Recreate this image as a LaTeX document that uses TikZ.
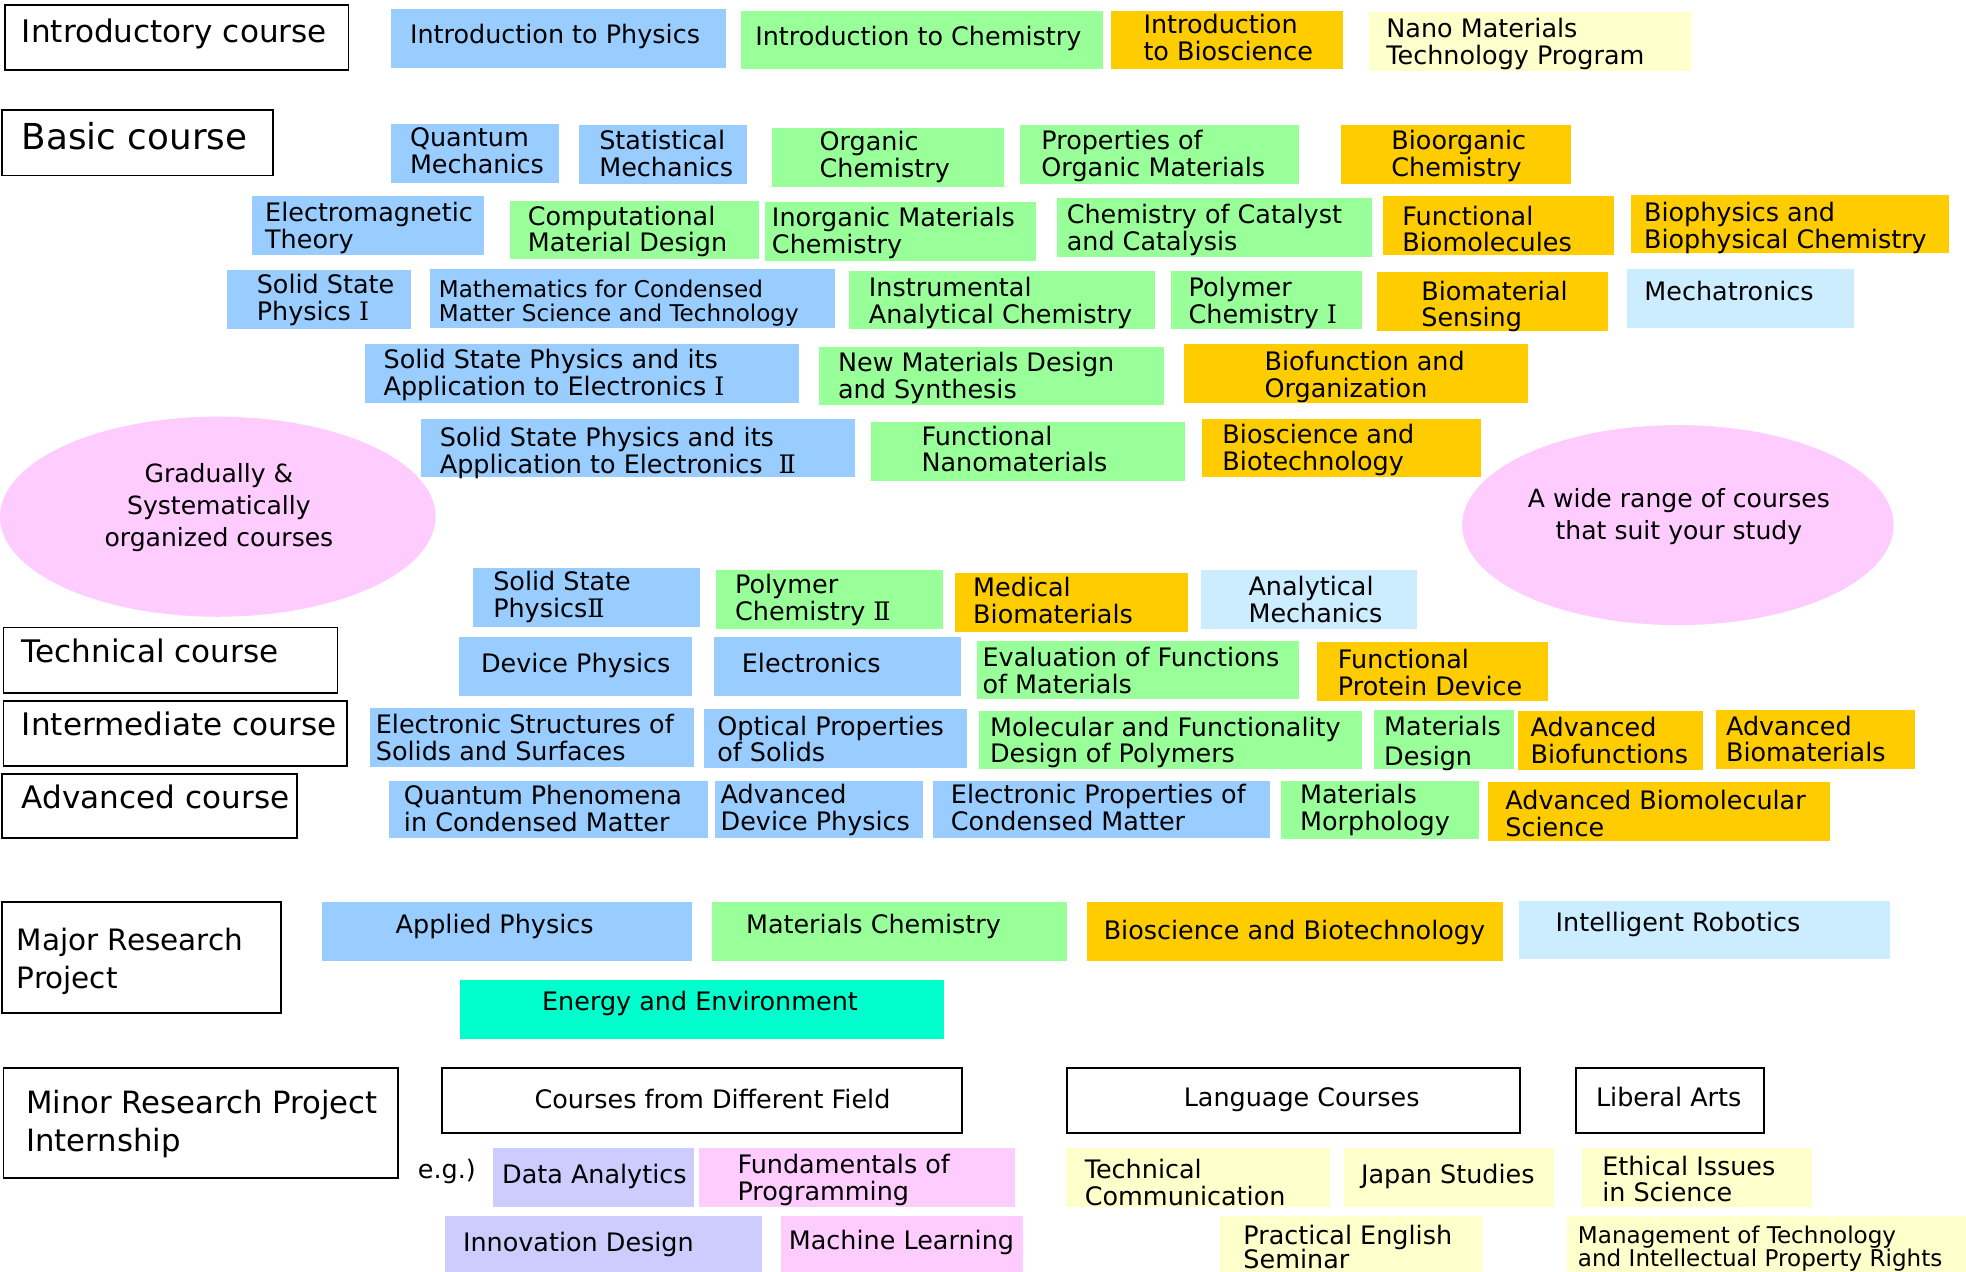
\documentclass[tikz,border=0pt]{standalone}
\usepackage{fontspec}
\setmainfont{DejaVu Sans}
\newfontfamily\numfont{DejaVu Serif}
\usetikzlibrary{shapes.geometric}
\definecolor{cblue}{HTML}{99CCFF}
\definecolor{cgreen}{HTML}{99FF99}
\definecolor{corange}{HTML}{FFCC00}
\definecolor{cyellow}{HTML}{FFFFCC}
\definecolor{cpale}{HTML}{CCECFF}
\definecolor{cpink}{HTML}{FFCCFF}
\definecolor{clav}{HTML}{CCCCFF}
\definecolor{cteal}{HTML}{00FFCC}
\newcommand\rI{{\numfont Ⅰ}}
\newcommand\rII{{\numfont Ⅱ}}
\tikzset{
  cbx/.style={rectangle, anchor=north west, inner sep=0pt, outer sep=0pt, draw=none},
  lvl/.style={rectangle, anchor=north west, inner sep=0pt, outer sep=0pt, draw=black, line width=1.4pt, fill=white},
  ctxf/.style 2 args={anchor=north west, inner sep=0pt, outer sep=0pt, align=left, yshift=#1pt, font=\fontsize{#1}{#2}\selectfont},
  ctx/.style={ctxf={20.3}{21.3}},
  etx/.style={anchor=north, inner sep=0pt, outer sep=0pt, align=center, yshift=20pt, font=\fontsize{20}{25.3}\selectfont},
  oval/.style={ellipse, fill=cpink, draw=none, inner sep=0pt, outer sep=0pt},
}
% coloured course box: name, x1, y1, x2, y2, colour, text x, first baseline, text
\newcommand\cbox[9]{%
  \node[cbx, fill=#6, minimum width=#4pt-#2pt, minimum height=#5pt-#3pt] (#1) at (#2,#3) {};
  \node[ctx] (#1-t) at (#7,#8) {\rule{0pt}{20.3pt}#9};
}
% framed label box: name, x1, y1, x2, y2, text x, first baseline, size, text
\newcommand\lbox[9]{%
  \node[lvl, minimum width=#4pt-#2pt, minimum height=#5pt-#3pt] (#1) at (#2,#3) {};
  \node[ctxf={#8}{30.6}] (#1-t) at (#6,#7) {\rule{0pt}{#8pt}#9};
}
\begin{document}
\begin{tikzpicture}[x=1pt,y=-1pt]
\useasboundingbox (0,0) rectangle (1568,1014);
\fill[white] (0,0) rectangle (1568,1014);
\clip (0,0) rectangle (1568,1014);

% ellipses
\node[oval, minimum width=347.4pt, minimum height=159.6pt] (ellL) at (173.7,412.1) {};
\node[etx] (ellL-t) at (174.6,385) {\rule{0pt}{20pt}Gradually \&\\Systematically\\organized courses};
\node[oval, minimum width=344.1pt, minimum height=159.5pt] (ellR) at (1338.2,418.8) {};
\node[etx] (ellR-t) at (1339,404.6) {\rule{0pt}{20pt}A wide range of courses\\that suit your study};

% row 1
\lbox{intro}{4}{4}{278}{56}{17.5}{34}{24.8}{Introductory course}
\cbox{iphy}{312}{7.4}{579}{54}{cblue}{327}{34.6}{Introduction to Physics}
\cbox{ichem}{591}{8.8}{880}{55.3}{cgreen}{602.4}{35.9}{Introduction to Chemistry}
\cbox{ibio}{886}{8.8}{1071.5}{55.3}{corange}{912}{26.6}{Introduction\\to Bioscience}
\cbox{nano}{1092.2}{9.6}{1349}{56.4}{cyellow}{1105.7}{29.8}{Nano Materials\\Technology Program}

% row 2
\lbox{basic}{1.7}{88}{218}{140}{17.5}{119.6}{28.5}{Basic course}
\cbox{qm}{312}{99}{446}{146}{cblue}{327}{117}{Quantum\\Mechanics}
\cbox{sm}{462}{99.7}{596}{146.5}{cblue}{478}{119.6}{Statistical\\Mechanics}
\cbox{oc}{615.8}{102}{801}{149}{cgreen}{653.7}{120.2}{Organic\\Chemistry}
\cbox{pom}{813.6}{99.7}{1036.4}{146.5}{cgreen}{830.6}{119.6}{Properties of\\Organic Materials}
\cbox{boc}{1069.4}{100}{1252.7}{146.5}{corange}{1109.7}{119.6}{Bioorganic\\Chemistry}

% row 3
\cbox{emt}{200.7}{156.3}{386}{203}{cblue}{211.5}{176.8}{Electromagnetic\\Theory}
\cbox{cmd}{407}{160.3}{605}{206.8}{cgreen}{421}{179.5}{Computational\\Material Design}
\cbox{imc}{610}{161}{826.6}{208}{cgreen}{615.7}{180.8}{Inorganic Materials\\Chemistry}
\cbox{ccc}{843.4}{158.2}{1094.6}{204.7}{cgreen}{850.8}{178.1}{Chemistry of Catalyst\\and Catalysis}
\cbox{fbm}{1103.3}{156.3}{1287}{203.1}{corange}{1118.5}{179.5}{Functional\\Biomolecules}
\cbox{bbc}{1300.7}{155.5}{1554.8}{202}{corange}{1311.2}{176.8}{Biophysics and\\Biophysical Chemistry}

% row 4
\cbox{ssp1}{181}{215.4}{328}{262}{cblue}{204.8}{234}{Solid State\\Physics \rI}
\node[cbx, fill=cblue, minimum width=323pt, minimum height=46.6pt] (math) at (343,214.8) {};
\node[ctxf={18.4}{19.2}] (math-t) at (350,237.4) {\rule{0pt}{18.4pt}Mathematics for Condensed\\Matter Science and Technology};
\cbox{iac}{677}{216.4}{921.3}{262.7}{cgreen}{693}{236.6}{Instrumental\\Analytical Chemistry}
\cbox{pc1}{934}{216.4}{1086.3}{262.7}{cgreen}{948}{236.6}{Polymer\\Chemistry \rI}
\cbox{bms}{1098.6}{217.2}{1282.3}{263.8}{corange}{1133.6}{239.3}{Biomaterial\\Sensing}
\cbox{mech}{1297.7}{214.6}{1478.3}{261.4}{cpale}{1311.5}{239.3}{Mechatronics}

% row 5
\cbox{sspa1}{291}{274.4}{637.6}{321.2}{cblue}{306}{293.8}{Solid State Physics and its\\Application to Electronics \rI}
\cbox{nmd}{652.8}{277}{928}{323.3}{cgreen}{668.4}{296.4}{New Materials Design\\and Synthesis}
\cbox{bfo}{944}{274.4}{1218.5}{321.2}{corange}{1008.6}{295.6}{Biofunction and\\Organization}

% row 6
\cbox{sspa2}{335.7}{334.5}{682}{380.7}{cblue}{350.8}{356.3}{Solid State Physics and its\\Application to Electronics\ \ \rII}
\cbox{fnm}{694.7}{336.3}{944.7}{383.4}{cgreen}{735}{355}{Functional\\Nanomaterials}
\cbox{bsb}{958.5}{334.5}{1181.3}{380.7}{corange}{975}{353.6}{Bioscience and\\Biotechnology}

% row 7
\cbox{ssp2}{377.6}{453.3}{558}{499.9}{cblue}{393.4}{471.1}{Solid State\\Physics\rII}
\cbox{pc2}{571}{454.6}{751.7}{501.4}{cgreen}{586.3}{473.3}{Polymer\\Chemistry \rII}
\cbox{medb}{761.7}{457.3}{947.1}{503.8}{corange}{776.2}{475.9}{Medical\\Biomaterials}
\cbox{anm}{958.2}{454.6}{1129.9}{501.4}{cpale}{995.8}{475.1}{Analytical\\Mechanics}

% row 8
\lbox{tech}{2.7}{500.4}{269.2}{552.5}{17.5}{528.6}{24.8}{Technical course}
\cbox{devp}{365.9}{508.3}{552}{555.1}{cblue}{383.7}{536.5}{Device Physics}
\cbox{elec}{569.5}{508.3}{766.8}{555.1}{cblue}{591.7}{536.5}{Electronics}
\cbox{efm}{779.3}{511.2}{1036.4}{557.8}{cgreen}{783.7}{531.7}{Evaluation of Functions\\of Materials}
\cbox{fpd}{1050.3}{512.3}{1234.3}{558.9}{corange}{1067.1}{533}{Functional\\Protein Device}

% row 9
\lbox{inter}{2.7}{558.9}{277}{611}{17.5}{586.2}{24.8}{Intermediate course}
\cbox{ess}{295.4}{565}{553.4}{611.5}{cblue}{299.8}{584.9}{Electronic Structures of\\Solids and Surfaces}
\cbox{ops}{561.4}{565.8}{770.9}{612.3}{cblue}{572.1}{586.2}{Optical Properties\\of Solids}
\cbox{mfd}{781}{566.8}{1086.3}{613.4}{cgreen}{789.6}{587}{Molecular and Functionality\\Design of Polymers}
\cbox{mdes}{1095.7}{566.3}{1207.4}{613.1}{cgreen}{1104}{586.2}{Materials\\[2.7pt]Design}
\cbox{abf}{1210.8}{567.1}{1358.2}{614.2}{corange}{1220.8}{587.6}{Advanced\\Biofunctions}
\cbox{abm}{1368.5}{566.3}{1527.6}{613.1}{corange}{1376.6}{586.2}{Advanced\\Biomaterials}

% row 10
\lbox{adv}{1.7}{617.3}{236.7}{668.6}{17.5}{644.7}{24.8}{Advanced course}
\cbox{qpc}{310.5}{622.7}{564.4}{668.6}{cblue}{322.2}{642}{Quantum Phenomena\\in Condensed Matter}
\cbox{adp}{570.4}{622.7}{736}{668.6}{cblue}{574.8}{640.7}{Advanced\\Device Physics}
\cbox{epc}{744}{622.7}{1012.6}{668.6}{cblue}{758.4}{640.7}{Electronic Properties of\\Condensed Matter}
\cbox{mmor}{1022}{622.9}{1179.6}{669.4}{cgreen}{1036.9}{640.7}{Materials\\Morphology}
\cbox{abs}{1186.9}{623.7}{1459.8}{670.5}{corange}{1200.7}{646}{Advanced Biomolecular\\Science}

% row 11-12
\lbox{major}{1.7}{719.4}{224.2}{807.7}{13.4}{757.7}{23.5}{Major Research\\Project}
\cbox{aphy}{256.8}{719.4}{552}{766.2}{cblue}{315.6}{744.4}{Applied Physics}
\cbox{mchem}{567.8}{719.4}{850.8}{766.2}{cgreen}{595}{744.4}{Materials Chemistry}
\cbox{bsbt}{866.9}{719.4}{1199}{766.2}{corange}{880.3}{749.2}{Bioscience and Biotechnology}
\cbox{irob}{1211.5}{718.6}{1507.5}{765.1}{cpale}{1240.7}{743.1}{Intelligent Robotics}
\cbox{ene}{366.9}{781.6}{752.5}{828.4}{cteal}{432.4}{805.6}{Energy and Environment}

% row 13
\lbox{minor}{2.7}{851.6}{317.2}{939.8}{20.8}{888}{24.5}{Minor Research Project\\Internship}
\lbox{cfd}{352.5}{851.6}{767.5}{903.4}{426.3}{884}{20.3}{Courses from Different Field}
\lbox{lang}{850.8}{851.6}{1212.4}{903.4}{944.1}{882.7}{20.3}{Language Courses}
\lbox{lib}{1256.8}{851.6}{1407.1}{903.4}{1272.9}{882.7}{20.3}{Liberal Arts}

% row 14
\node[ctx] (eg) at (333.3,939.8) {\rule{0pt}{20.3pt}e.g.)};
\cbox{da}{393.4}{915.9}{553.4}{962.5}{clav}{400.5}{943.8}{Data Analytics}
\cbox{fop}{557.7}{915.9}{809.8}{962.5}{cpink}{588.2}{935.9}{Fundamentals of\\Programming}
\cbox{tc}{849.8}{915.9}{1061}{962.5}{cyellow}{865.2}{939.8}{Technical\\Communication}
\cbox{js}{1072.2}{915.9}{1239}{962.5}{cyellow}{1085.5}{943.8}{Japan Studies}
\cbox{eis}{1261.8}{915.9}{1444.8}{962.5}{cyellow}{1277.9}{937.2}{Ethical Issues\\in Science}

% row 15
\cbox{innd}{354.8}{970}{607.4}{1016}{clav}{369.3}{998.3}{Innovation Design}
\cbox{ml}{623.2}{970}{815.5}{1016}{cpink}{629.2}{996.5}{Machine Learning}
\cbox{pes}{973.3}{970}{1181.9}{1016}{cyellow}{991.7}{992.2}{Practical English\\[-1.9pt]Seminar}
\node[cbx, fill=cyellow, minimum width=320pt, minimum height=46pt] (mot) at (1249.4,970) {};
\node[ctxf={18.4}{18.6}] (mot-t) at (1258.5,991.7) {\rule{0pt}{18.4pt}Management of Technology\\and Intellectual Property Rights};
\end{tikzpicture}
\end{document}
